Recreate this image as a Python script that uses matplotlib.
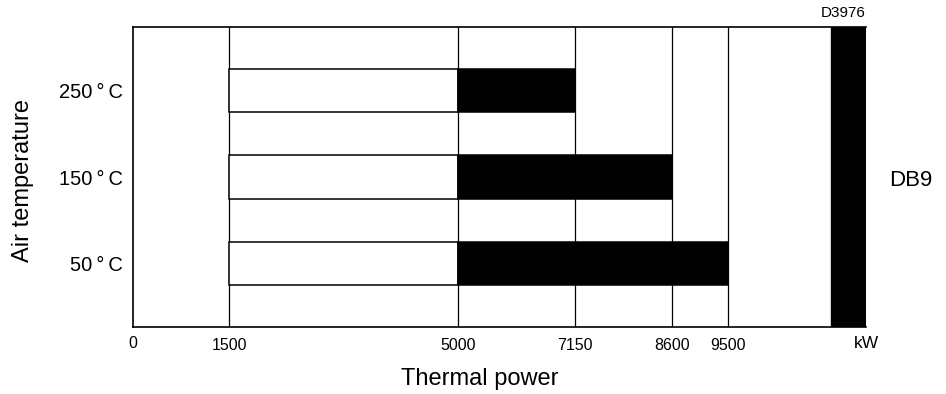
import numpy as np
import matplotlib
matplotlib.use("Agg")
import matplotlib.pyplot as plt

plt.rcParams['font.family'] = ['Liberation Sans', 'DejaVu Sans']

# data
temperatures = ["50\u2009°\u2009C", "150\u2009°\u2009C", "250\u2009°\u2009C"]
base_start = [1500, 1500, 1500]
base_end = [5000, 5000, 5000]
max_power = [9500, 8600, 7150]
tick_values = [0, 1500, 5000, 7150, 8600, 9500]
tick_labels = ["0", "1500", "5000", "7150", "8600", "9500"]
model_band = [11150, 11720]
model_name = "DB9"

# piecewise scale (chart axis is not strictly linear)
scale_vals = [0, 1500, 5000, 7150, 8600, 9500, 11720]
scale_pos = [133, 229, 458, 575, 672, 728, 866]

def fwd(x):
    return np.interp(x, scale_vals, scale_pos)

def inv(y):
    return np.interp(y, scale_pos, scale_vals)

fig = plt.figure(figsize=(9.46, 3.94), dpi=100)
ax = fig.add_axes([133/946, 1 - 327/394, (866-133)/946, 300/394])
ax.set_xscale('function', functions=(fwd, inv))
ax.set_xlim(0, 11720)
ax.set_ylim(-0.744, 2.744)

y = np.arange(len(temperatures))
for v in tick_values[1:]:
    ax.axvline(v, color='black', lw=0.9, zorder=1)

ax.barh(y, np.array(base_end) - np.array(base_start), left=base_start, height=0.5,
        color='white', edgecolor='black', lw=1.1, zorder=2)
ax.barh(y, np.array(max_power) - np.array(base_end), left=base_end, height=0.5,
        color='black', edgecolor='black', lw=1.1, zorder=2)
ax.axvspan(model_band[0], model_band[1], color='black', zorder=3)

ax.set_yticks(y)
ax.set_yticklabels(temperatures, fontsize=14.5)
ax.set_xticks(tick_values)
ax.set_xticklabels(tick_labels, fontsize=11.5)
ax.tick_params(axis='both', length=0)
ax.tick_params(axis='x', pad=8)
ax.tick_params(axis='y', pad=7.5)
ax.get_xticklabels()[0].set_y(0.008)

ax.spines['right'].set_visible(False)
for s in ['left', 'bottom', 'top']:
    ax.spines[s].set_linewidth(1.2)

ax.set_ylabel("Air temperature", fontsize=17)
ax.yaxis.set_label_coords(-0.150, 0.487)
ax.yaxis.label.set_va('center')
ax.set_xlabel("Thermal power", fontsize=17)
ax.xaxis.set_label_coords(0.473, -0.173)
ax.xaxis.label.set_va('center')

ax.text(1.0, -0.055, "kW", transform=ax.transAxes, ha='center', va='center', fontsize=12.5)
ax.text(1.0, 1.048, "D3976", transform=ax.transAxes, ha='right', va='center', fontsize=11)
fig.text(911/946, 1 - 180/394, model_name, ha='center', va='center', fontsize=16)

fig.savefig("out.png", dpi=100)
